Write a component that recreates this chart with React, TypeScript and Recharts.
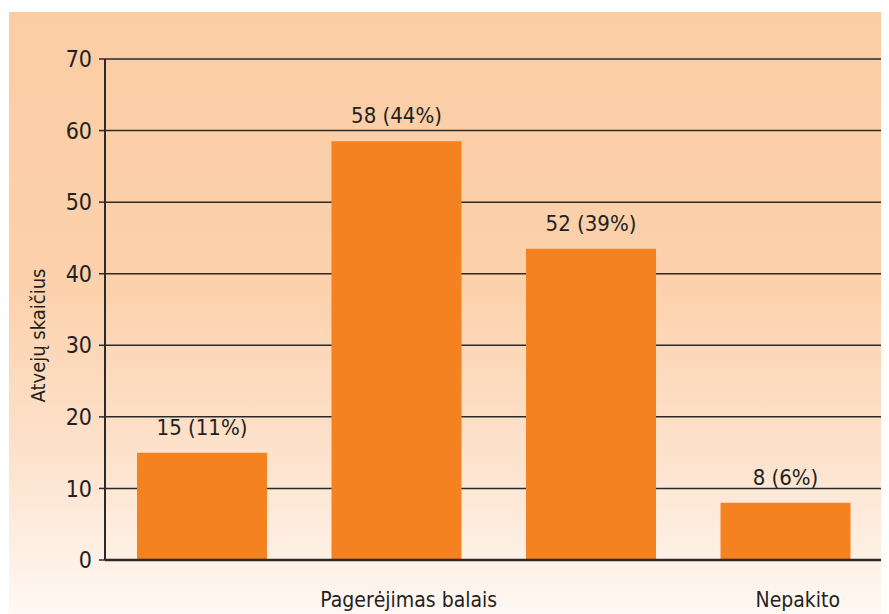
import React from "react";
import { BarChart, Bar, XAxis, YAxis, CartesianGrid, LabelList, Label } from "recharts";

const categories = ["", "Pagerėjimas balais", "", "Nepakito"];
const values = [15, 58.5, 43.5, 8];
const barLabels = ["15 (11%)", "58 (44%)", "52 (39%)", "8 (6%)"];
const yTicks = [0, 10, 20, 30, 40, 50, 60, 70];
const yTitle = "Atvejų skaičius";

const data = categories.map((name, i) => ({ name, value: values[i], label: barLabels[i] }));

const FONT = "'Liberation Sans Narrow', 'DejaVu Sans Condensed', 'Arial Narrow', sans-serif";
const TEXT = "#231F20";

const XTick = (props: any) => {
  const { x, y, payload } = props;
  return (
    <text x={x + 12} y={y + 39} textAnchor="middle" fontFamily={FONT} fontSize={21} fill={TEXT}>
      {payload.value}
    </text>
  );
};

export default function App() {
  return (
    <div
      style={{
        marginLeft: 1,
        marginTop: 4,
        width: 880,
        height: 602,
        background: "linear-gradient(to bottom, #FBCDA5 0%, #FCD1AB 45%, #FDE3CE 75%, #FFF8F3 100%)",
      }}
    >
      <BarChart
        width={880}
        height={602}
        data={data}
        margin={{ top: 47, right: 6, bottom: 0, left: 0 }}
        barSize={130}
      >
        <CartesianGrid horizontal vertical={false} stroke="#2a2a2a" strokeWidth={1.5} />
        <XAxis
          dataKey="name"
          height={54}
          tick={<XTick />}
          tickLine={false}
          axisLine={{ stroke: "#2a2a2a", strokeWidth: 2.5 }}
          interval={0}
        />
        <YAxis
          domain={[0, 70]}
          ticks={yTicks}
          width={96}
          tickSize={6}
          tickMargin={7}
          tickLine={{ stroke: "#2a2a2a", strokeWidth: 1.5 }}
          axisLine={{ stroke: "#2a2a2a", strokeWidth: 2 }}
          tick={{ fontFamily: FONT, fontSize: 23, fill: TEXT }}
          interval={0}
        >
          <Label
            content={(p: any) => {
              const vb = p.viewBox;
              const cx = vb.x + 29;
              const cy = vb.y + vb.height / 2 + 26;
              return (
                <text
                  x={cx}
                  y={cy}
                  transform={`rotate(-90, ${cx}, ${cy})`}
                  textAnchor="middle"
                  dominantBaseline="central"
                  fontFamily={FONT}
                  fontSize={20}
                  fill={TEXT}
                >
                  {yTitle}
                </text>
              );
            }}
          />
        </YAxis>
        <YAxis
          yAxisId="right"
          orientation="right"
          width={0}
          tick={false}
          tickLine={false}
          axisLine={{ stroke: "#2a2a2a", strokeWidth: 2 }}
        />
        <Bar dataKey="value" fill="#F48221" isAnimationActive={false}>
          <LabelList
            dataKey="label"
            position="top"
            offset={18}
            style={{ fontFamily: FONT, fontSize: 22, fill: TEXT }}
          />
        </Bar>
      </BarChart>
    </div>
  );
}
